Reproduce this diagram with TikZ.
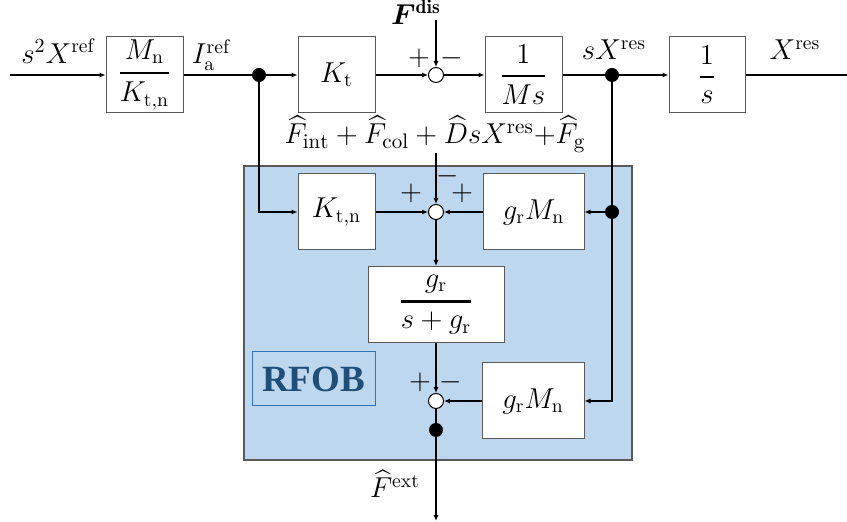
\documentclass[tikz,border=0pt]{standalone}
\usepackage{amsmath,amssymb,bm}
\usepackage{fontspec}
\newfontfamily\rfobfont{Liberation Serif}
\usetikzlibrary{arrows.meta}
\definecolor{obsblue}{RGB}{189,215,238}
\definecolor{obstext}{RGB}{31,78,121}
\definecolor{obsedge}{RGB}{46,117,182}
\definecolor{boxgray}{RGB}{89,89,89}
\newcommand{\bfr}[2]{\genfrac{}{}{1.3pt}{0}{#1}{#2}}

\begin{document}
\begin{tikzpicture}[x=0.5pt,y=-0.5pt,>={Latex[length=3pt,width=2.6pt]},
  font=\fontsize{14}{16}\selectfont,
  blk/.style={draw=boxgray,line width=0.5pt,fill=white,inner sep=0pt,minimum height=38pt},
  sumpt/.style={circle,draw,fill=white,line width=0.5pt,minimum size=7.5pt,inner sep=0pt},
  dot/.style={circle,fill,minimum size=7pt,inner sep=0pt},
  sig/.style={line width=0.8pt}]
\useasboundingbox (0,0) rectangle (847,522);
% observer region
\fill[obsblue,draw=boxgray,line width=0.6pt] (244,166) rectangle (632,460);
\node[draw=obsedge,line width=0.5pt,fill=obsblue,minimum width=61.5pt,minimum height=27pt,
  text=obstext,font=\rfobfont\bfseries\fontsize{18.5}{20}\selectfont] (tag) at (313.5,379) {RFOB};
% plant row
\node[blk,minimum width=38.5pt] (gain) at (144.5,75) {$\bfr{M_{\mathrm{n}}}{K_{\mathrm{t,n}}}$};
\node[dot] (d1) at (259,75) {};
\node[blk,minimum width=38.5pt] (kt) at (336.5,75) {$K_{\mathrm{t}}$};
\node[sumpt] (s1) at (436,75) {};
\node[blk,minimum width=38.5pt] (ms) at (523.5,75) {$\bfr{1}{Ms}$};
\node[dot] (d2) at (612,75) {};
\node[blk,minimum width=38pt] (integ) at (707,75) {$\bfr{1}{s}$};
\coordinate (in) at (10,75);
\coordinate (out) at (847,75);
\coordinate (fdis) at (436,20);
% observer blocks
\node[blk,minimum width=38.5pt] (ktn) at (336.5,212) {$K_{\mathrm{t,n}}$};
\node[sumpt] (s2) at (436,212) {};
\node[blk,minimum width=50.5pt] (gm1) at (533.5,212) {$g_{\mathrm{r}}M_{\mathrm{n}}$};
\node[dot] (d3) at (612,212) {};
\node[blk,minimum width=68pt] (filt) at (436,304.5) {$\bfr{g_{\mathrm{r}}}{s+g_{\mathrm{r}}}$};
\node[sumpt] (s3) at (436,401) {};
\node[blk,minimum width=51pt] (gm2) at (533,401) {$g_{\mathrm{r}}M_{\mathrm{n}}$};
\node[dot] (d4) at (436,430) {};
\coordinate (fb) at (436,153);
\coordinate (fext) at (436,521);
% labels
\node (lin) at (58,51) {$s^2X^{\mathrm{ref}}$};
\node (lia) at (211,55) {$I_{\mathrm{a}}^{\mathrm{ref}}$};
\node (ldis) at (416,12) {$\bm{F}^{\mathbf{dis}}$};
\node (lsx) at (614,50) {$sX^{\mathrm{res}}$};
\node (lx) at (795,50) {$X^{\mathrm{res}}$};
\node[font=\fontsize{15}{17}\selectfont] (lfb) at (435,134) {$\widehat{F}_{\mathrm{int}}+\widehat{F}_{\mathrm{col}}+\widehat{D}sX^{\mathrm{res}}{+}\widehat{F}_{\mathrm{g}}$};
\node (lext) at (395,484) {$\widehat{F}^{\mathrm{ext}}$};
\node (p1) at (419,58) {$+$};
\node (m1) at (452,58) {$-$};
\node (p2) at (411,193) {$+$};
\node (m2) at (448,176) {$-$};
\node (p3) at (462,193) {$+$};
\node (p4) at (420,382) {$+$};
\node (m4) at (451,382) {$-$};
% connectors
\draw[sig,->] (in) -- (gain);
\draw[sig] (gain) -- (d1);
\draw[sig,->] (d1) -- (kt);
\draw[sig,->] (kt) -- (s1);
\draw[sig,->] (fdis) -- (s1);
\draw[sig,->] (s1) -- (ms);
\draw[sig] (ms) -- (d2);
\draw[sig,->] (d2) -- (integ);
\draw[sig] (integ) -- (out);
\draw[sig,->] (d1) |- (ktn);
\draw[sig] (d2) -- (d3);
\draw[sig,->] (d3) -- (gm1);
\draw[sig,->] (d3) |- (gm2);
\draw[sig,->] (ktn) -- (s2);
\draw[sig,->] (gm1) -- (s2);
\draw[sig,->] (fb) -- (s2);
\draw[sig,->] (s2) -- (filt);
\draw[sig,->] (filt) -- (s3);
\draw[sig,->] (gm2) -- (s3);
\draw[sig] (s3) -- (d4);
\draw[sig,->] (d4) -- (fext);
\end{tikzpicture}
\end{document}
